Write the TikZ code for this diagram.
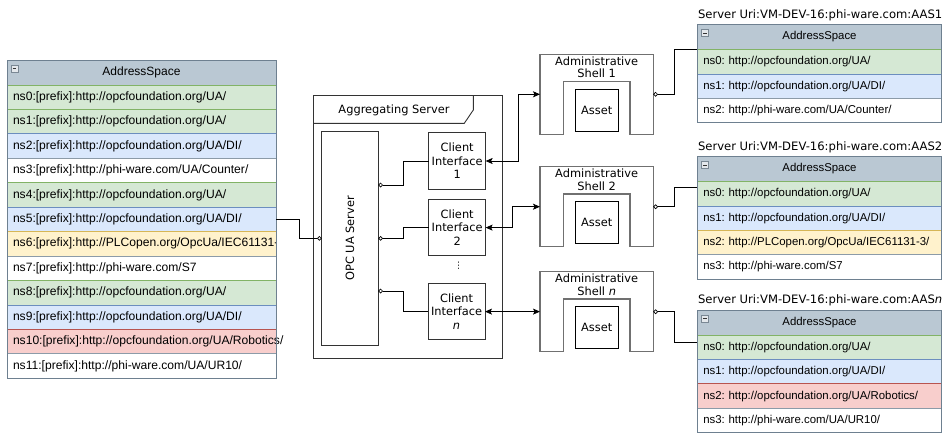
\documentclass[tikz,border=0pt]{standalone}
\usepackage{fontspec}
\setmainfont{DejaVu Sans}
\newfontfamily\tabfont{Liberation Sans}
\usetikzlibrary{arrows.meta,calc}
\frenchspacing
\definecolor{hdrfill}{HTML}{BAC8D3}
\definecolor{hdrdraw}{HTML}{6E8090}
\definecolor{gfill}{HTML}{D5E8D4}
\definecolor{gdraw}{HTML}{82B366}
\definecolor{bfill}{HTML}{DAE8FC}
\definecolor{bdraw}{HTML}{6C8EBF}
\definecolor{yfill}{HTML}{FFF2CC}
\definecolor{ydraw}{HTML}{D6B656}
\definecolor{rfill}{HTML}{F8CECC}
\definecolor{rdraw}{HTML}{B85450}
\definecolor{wdraw}{HTML}{8C9BA8}
\definecolor{boxline}{HTML}{333333}
\definecolor{shellgray}{HTML}{707070}
\definecolor{icofill}{HTML}{E4E8EC}
\definecolor{icodraw}{HTML}{7A8894}

\tikzset{
  every node/.style={outer sep=0pt},
  tabcell/.style={anchor=north west, inner xsep=6pt, inner ysep=0pt, minimum height=24.44pt, align=left, line width=0.8pt},
  lefttext/.style={text width=257pt, font=\tabfont\fontsize{12.1}{13}\selectfont},
  righttext/.style={text width=232.4pt, font=\tabfont\fontsize{11.4}{13}\selectfont},
  gcell/.style={tabcell, fill=gfill, draw=gdraw},
  bcell/.style={tabcell, fill=bfill, draw=bdraw},
  ycell/.style={tabcell, fill=yfill, draw=ydraw},
  rcell/.style={tabcell, fill=rfill, draw=rdraw},
  wcell/.style={tabcell, fill=white, draw=wdraw},
  hdrcell/.style={anchor=north west, fill=hdrfill, draw=hdrdraw, minimum height=25pt, inner sep=0pt, line width=0.8pt},
  tabframe/.style={draw=hdrdraw, line width=1pt},
  boxtext/.style={font=\fontsize{11.4}{13.5}\selectfont},
  sbox/.style={draw=boxline, line width=0.9pt, inner sep=0pt, align=center, boxtext},
  shellpath/.style={draw=shellgray, line width=1.3pt},
  assetbox/.style={draw=black, line width=0.8pt, minimum width=42.7pt, minimum height=42pt, inner sep=0pt, boxtext},
  conn/.style={draw=black, line width=0.8pt},
  ballend/.tip={Circle[open, length=4.6pt, width=4.6pt, line width=0.7pt]},
  arrtip/.tip={Stealth[length=7pt, width=6pt, inset=1.5pt]},
  titletext/.style={anchor=west, inner sep=0pt, font=\fontsize{11.6}{13}\selectfont},
}

\newcommand\hdricon[1]{%
  \draw[fill=icofill, draw=icodraw, line width=0.6pt] ($(#1.north west)+(4,5)$) rectangle ++(7,7);
  \draw[line width=1pt, draw=black!80] ($(#1.north west)+(5.6,8.5)$) -- ++(3.8,0);
}

\newcommand\ashell[4]{%
  \node[minimum width=113.3pt, minimum height=80pt, anchor=north west, inner sep=0pt] (#1) at (#2,#3) {};
  \draw[shellpath] (#1.south west) -- (#1.north west) -- (#1.north east) -- (#1.south east)
     -- ++(-23.3,0) -- ++(0,-52.6) -- ++(-66.7,0) -- ++(0,52.6) -- cycle;
  \node[align=center, inner sep=0pt, font=\fontsize{11.4}{12.5}\selectfont] (#1t) at ($(#1.north)+(0,13)$) {Administrative\\Shell #4};
  \node[assetbox] (#1a) at ($(#1.north)+(0,55.7)$) {Asset};
}

\begin{document}
\begin{tikzpicture}[x=1pt, y=-1pt]
\useasboundingbox (0,0) rectangle (945,432);

% ---------------- left address space ----------------
\node[hdrcell, minimum width=269pt, font=\tabfont\fontsize{12}{13}\selectfont] (lh) at (7,60) {AddressSpace};
\node[gcell,lefttext] (l0) at (lh.south west) {ns0:[prefix]:http://opcfoundation.org/UA/};
\node[gcell,lefttext] (l1) at (l0.south west) {ns1:[prefix]:http://opcfoundation.org/UA/};
\node[bcell,lefttext] (l2) at (l1.south west) {ns2:[prefix]:http://opcfoundation.org/UA/DI/};
\node[wcell,lefttext] (l3) at (l2.south west) {ns3:[prefix]:http://phi-ware.com/UA/Counter/};
\node[gcell,lefttext] (l4) at (l3.south west) {ns4:[prefix]:http://opcfoundation.org/UA/};
\node[bcell,lefttext] (l5) at (l4.south west) {ns5:[prefix]:http://opcfoundation.org/UA/DI/};
\node[ycell,lefttext] (l6) at (l5.south west) {};
\begin{scope}
  \clip ($(l6.north west)+(0.5,0.5)$) rectangle ($(l6.south east)+(-1,-0.5)$);
  \node[anchor=west, inner sep=0pt, font=\tabfont\fontsize{12.1}{13}\selectfont] (l6t) at ($(l6.west)+(6,0)$) {ns6:[prefix]:http://PLCopen.org/OpcUa/IEC61131-3/};
\end{scope}
\node[wcell,lefttext] (l7) at (l6.south west) {ns7:[prefix]:http://phi-ware.com/S7};
\node[gcell,lefttext] (l8) at (l7.south west) {ns8:[prefix]:http://opcfoundation.org/UA/};
\node[bcell,lefttext] (l9) at (l8.south west) {ns9:[prefix]:http://opcfoundation.org/UA/DI/};
\node[rcell,lefttext] (l10) at (l9.south west) {ns10:[prefix]:http://opcfoundation.org/UA/Robotics/};
\node[wcell,lefttext] (l11) at (l10.south west) {ns11:[prefix]:http://phi-ware.com/UA/UR10/};
\draw[tabframe] (lh.north west) rectangle (l11.south east);
\hdricon{lh}

% ---------------- aggregating server ----------------
\node[draw=boxline, line width=0.9pt, minimum width=189pt, minimum height=263.3pt, anchor=north west, inner sep=0pt] (agg) at (313.3,95) {};
\draw[draw=boxline, line width=0.9pt] ($(agg.north west)+(0,28.3)$) -- ++(151,0) -- ($(agg.north west)+(160,15)$) -- ++(0,-15);
\node[boxtext, inner sep=0pt] (aggt) at (394,110) {Aggregating Server};

\node[sbox, minimum width=56.6pt, minimum height=214.7pt, anchor=north west] (opc) at (321.7,131) {};
\node[boxtext, rotate=90, inner sep=0pt] (opct) at (opc.center) {OPC UA Server};

\node[sbox, minimum width=56.8pt, minimum height=56.6pt, anchor=north west] (ci1) at (428.8,132.7) {Client\\Interface\\1};
\node[sbox, minimum width=56.8pt, minimum height=56.6pt, anchor=north west] (ci2) at (428.8,199.3) {Client\\Interface\\2};
\node[sbox, minimum width=56.8pt, minimum height=56.6pt, anchor=north west] (cin) at (428.2,283.3) {Client\\Interface\\\textit{n}};
\node[inner sep=0pt, font=\fontsize{9}{9}\selectfont] (dots) at (458.5,265.5) {⋮};

% ---------------- administrative shells ----------------
\ashell{sh1}{540}{54.3}{1}
\ashell{sh2}{540}{166.7}{2}
\ashell{shn}{540}{271.7}{\textit{n}}

% ---------------- right address spaces ----------------
\node[titletext] (t1ttl) at (698,15) {Server Uri:VM-DEV-16:phi-ware.com:AAS1};
\node[hdrcell, minimum width=244.4pt, font=\tabfont\fontsize{11.4}{13}\selectfont] (t1h) at (697.3,24.5) {AddressSpace};
\node[gcell,righttext] (t1r0) at (t1h.south west) {ns0: http://opcfoundation.org/UA/};
\node[bcell,righttext] (t1r1) at (t1r0.south west) {ns1: http://opcfoundation.org/UA/DI/};
\node[wcell,righttext] (t1r2) at (t1r1.south west) {ns2: http://phi-ware.com/UA/Counter/};
\draw[tabframe] (t1h.north west) rectangle (t1r2.south east);
\hdricon{t1h}

\node[titletext] (t2ttl) at (698,147.5) {Server Uri:VM-DEV-16:phi-ware.com:AAS2};
\node[hdrcell, minimum width=244.4pt, font=\tabfont\fontsize{11.4}{13}\selectfont] (t2h) at (697.3,156.5) {AddressSpace};
\node[gcell,righttext] (t2r0) at (t2h.south west) {ns0: http://opcfoundation.org/UA/};
\node[bcell,righttext] (t2r1) at (t2r0.south west) {ns1: http://opcfoundation.org/UA/DI/};
\node[ycell,righttext] (t2r2) at (t2r1.south west) {ns2: http://PLCopen.org/OpcUa/IEC61131-3/};
\node[wcell,righttext] (t2r3) at (t2r2.south west) {ns3: http://phi-ware.com/S7};
\draw[tabframe] (t2h.north west) rectangle (t2r3.south east);
\hdricon{t2h}

\node[titletext] (t3ttl) at (698,300.5) {Server Uri:VM-DEV-16:phi-ware.com:AAS\textit{n}};
\node[hdrcell, minimum width=244.4pt, font=\tabfont\fontsize{11.4}{13}\selectfont] (t3h) at (697.3,310) {AddressSpace};
\node[gcell,righttext] (t3r0) at (t3h.south west) {ns0: http://opcfoundation.org/UA/};
\node[bcell,righttext] (t3r1) at (t3r0.south west) {ns1: http://opcfoundation.org/UA/DI/};
\node[rcell,righttext] (t3r2) at (t3r1.south west) {ns2: http://opcfoundation.org/UA/Robotics/};
\node[wcell,righttext] (t3r3) at (t3r2.south west) {ns3: http://phi-ware.com/UA/UR10/};
\draw[tabframe] (t3h.north west) rectangle (t3r3.south east);
\hdricon{t3h}

\coordinate (t2in) at ($(t2r0.north west)+(0,5.7)$);
\coordinate (t3in) at ($(t3r0.north west)+(0,7.3)$);

% ---------------- connectors ----------------
\draw[conn, -ballend] (l5.east) -- ++(23.3,0) |- (opc.west);
\draw[conn, ballend-] ($(opc.east)+(0,-53.3)$) -- ++(25,0) |- (ci1.west);
\draw[conn, ballend-] (opc.east) -- ++(25,0) |- (ci2.west);
\draw[conn, ballend-] ($(opc.east)+(0,52.7)$) -- ++(25,0) |- (cin.west);

\draw[conn, arrtip-arrtip] (ci1.east) -- ++(32.6,0) |- (sh1.west);
\draw[conn, arrtip-arrtip] (ci2.east) -- ++(27,0) |- (sh2.west);
\draw[conn, arrtip-arrtip] (cin.east) -- (cin.east -| shn.west);

\draw[conn, ballend-] (sh1.east) -- ++(21,0) |- (t1r0.north west);
\draw[conn, ballend-] (sh2.east) -- ++(21,0) |- (t2in);
\draw[conn, ballend-] (shn.east) -- ++(21,0) |- (t3in);
\end{tikzpicture}
\end{document}
